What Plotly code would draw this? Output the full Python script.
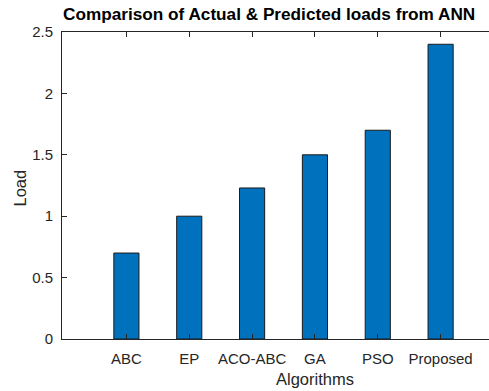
import plotly.graph_objects as go

# Load per optimisation algorithm
algorithms = ["ABC", "EP", "ACO-ABC", "GA", "PSO", "Proposed"]
loads = [0.7, 1.0, 1.23, 1.5, 1.7, 2.4]
positions = [1, 2, 3, 4, 5, 6]
y_ticks = [0, 0.5, 1, 1.5, 2, 2.5]
y_tick_text = ["0", "0.5", "1", "1.5", "2", "2.5"]

AXIS_GREY = "#262626"
FONT = "Arial, Liberation Sans, Helvetica, sans-serif"

fig = go.Figure(
    go.Bar(
        x=positions,
        y=loads,
        width=0.4,
        marker=dict(color="#0072BD", line=dict(color="#1a1a1a", width=1)),
    )
)

fig.update_layout(
    width=489,
    height=391,
    margin=dict(l=62, r=0, t=32, b=52),
    paper_bgcolor="white",
    plot_bgcolor="white",
    showlegend=False,
    font=dict(family=FONT, size=15, color=AXIS_GREY),
)

fig.update_xaxes(
    range=[-0.025, 6.77],
    tickvals=positions,
    ticktext=algorithms,
    showgrid=False,
    zeroline=False,
    showline=True,
    linecolor=AXIS_GREY,
    linewidth=1,
    mirror="ticks",
    ticks="inside",
    ticklen=5,
    tickcolor=AXIS_GREY,
    ticklabelstandoff=6,
    tickfont=dict(size=15, color=AXIS_GREY),
)

fig.update_yaxes(
    range=[0, 2.5],
    tickvals=y_ticks,
    ticktext=y_tick_text,
    showgrid=False,
    zeroline=False,
    showline=True,
    linecolor=AXIS_GREY,
    linewidth=1,
    mirror=False,
    ticks="inside",
    ticklen=5,
    tickcolor=AXIS_GREY,
    ticklabelstandoff=5,
    tickfont=dict(size=15, color=AXIS_GREY),
)

# Title, axis labels
fig.add_annotation(
    text="<b>Comparison of Actual &amp; Predicted loads from ANN</b>",
    xref="paper", yref="paper", x=0, y=1,
    xanchor="left", yanchor="bottom", xshift=-1, yshift=6,
    showarrow=False, font=dict(family=FONT, size=17.2, color="black"),
)
fig.add_annotation(
    text="Load", textangle=-90,
    xref="paper", yref="paper", x=0, y=0.5,
    xanchor="center", yanchor="middle", xshift=-43, yshift=-3,
    showarrow=False, font=dict(family=FONT, size=16.5, color=AXIS_GREY),
)
fig.add_annotation(
    text="Algorithms",
    xref="x", yref="paper", x=4, y=0,
    xanchor="center", yanchor="top", yshift=-29,
    showarrow=False, font=dict(family=FONT, size=16.5, color=AXIS_GREY),
)

fig.write_html("out.html")
